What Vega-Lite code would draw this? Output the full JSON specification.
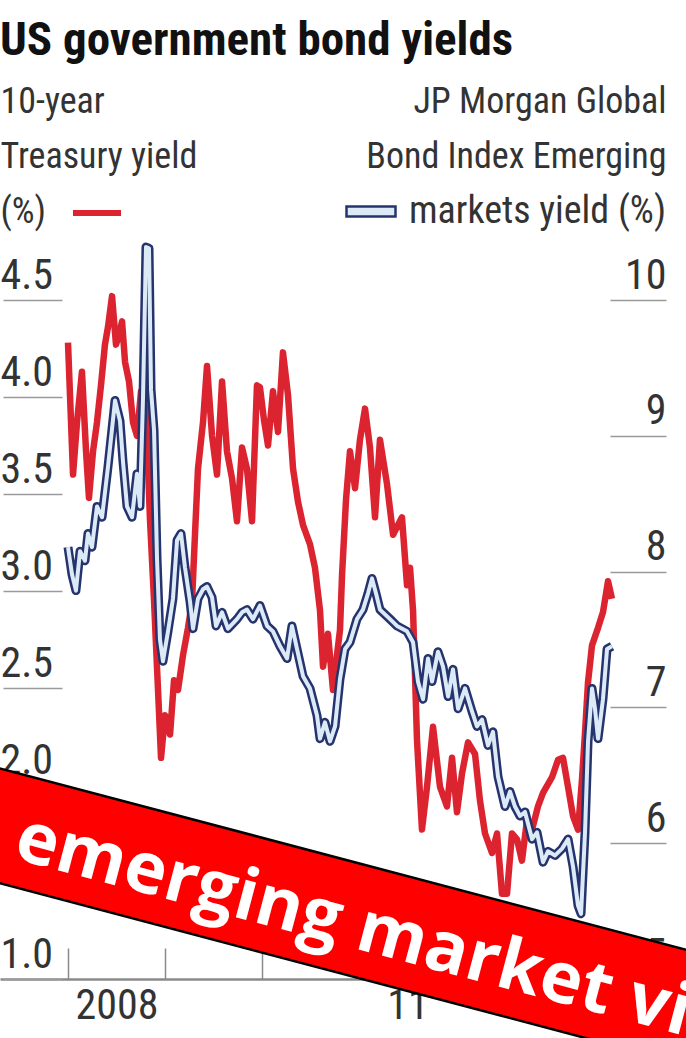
{
  "$schema": "https://vega.github.io/schema/vega-lite/v6.json",
  "width": 686,
  "height": 679,
  "autosize": "none",
  "padding": {"left": 0, "top": 300, "right": 0, "bottom": 59},
  "background": "white",
  "config": {"view": {"stroke": null}},
  "title": {
    "text": "US government bond yields",
    "anchor": "start",
    "frame": "group",
    "font": "Liberation Sans Narrow, Roboto Condensed, DejaVu Sans Condensed, sans-serif",
    "fontSize": 47,
    "fontWeight": "bold",
    "color": "#111111",
    "offset": 18
  },
  "datasets": {
    "red": [
      {"t": 2008.000, "v": 4.28}, {"t": 2008.052, "v": 3.60}, {"t": 2008.093, "v": 3.87}, {"t": 2008.144, "v": 4.13},
      {"t": 2008.186, "v": 3.72}, {"t": 2008.216, "v": 3.48}, {"t": 2008.258, "v": 3.72}, {"t": 2008.299, "v": 3.87},
      {"t": 2008.340, "v": 4.06}, {"t": 2008.381, "v": 4.27}, {"t": 2008.412, "v": 4.36}, {"t": 2008.454, "v": 4.52},
      {"t": 2008.495, "v": 4.27}, {"t": 2008.526, "v": 4.32}, {"t": 2008.557, "v": 4.39}, {"t": 2008.588, "v": 4.18},
      {"t": 2008.629, "v": 4.08}, {"t": 2008.670, "v": 3.87}, {"t": 2008.711, "v": 3.80}, {"t": 2008.753, "v": 4.03},
      {"t": 2008.804, "v": 3.93}, {"t": 2008.845, "v": 3.37}, {"t": 2008.887, "v": 2.95}, {"t": 2008.928, "v": 2.49},
      {"t": 2008.959, "v": 2.14}, {"t": 2009.000, "v": 2.36}, {"t": 2009.052, "v": 2.26}, {"t": 2009.093, "v": 2.54},
      {"t": 2009.134, "v": 2.49}, {"t": 2009.186, "v": 2.67}, {"t": 2009.237, "v": 2.81}, {"t": 2009.278, "v": 2.94},
      {"t": 2009.309, "v": 3.29}, {"t": 2009.340, "v": 3.63}, {"t": 2009.392, "v": 3.87}, {"t": 2009.433, "v": 4.16},
      {"t": 2009.485, "v": 3.80}, {"t": 2009.536, "v": 3.60}, {"t": 2009.588, "v": 4.08}, {"t": 2009.639, "v": 3.72},
      {"t": 2009.691, "v": 3.58}, {"t": 2009.742, "v": 3.36}, {"t": 2009.794, "v": 3.74}, {"t": 2009.845, "v": 3.63},
      {"t": 2009.897, "v": 3.36}, {"t": 2009.948, "v": 4.06}, {"t": 2009.979, "v": 4.05}, {"t": 2010.021, "v": 3.88},
      {"t": 2010.062, "v": 3.75}, {"t": 2010.113, "v": 4.03}, {"t": 2010.165, "v": 3.82}, {"t": 2010.216, "v": 4.23},
      {"t": 2010.268, "v": 4.01}, {"t": 2010.320, "v": 3.63}, {"t": 2010.371, "v": 3.46}, {"t": 2010.423, "v": 3.34},
      {"t": 2010.495, "v": 3.24}, {"t": 2010.546, "v": 3.12}, {"t": 2010.598, "v": 2.90}, {"t": 2010.629, "v": 2.61},
      {"t": 2010.680, "v": 2.78}, {"t": 2010.732, "v": 2.49}, {"t": 2010.773, "v": 2.67}, {"t": 2010.804, "v": 2.80},
      {"t": 2010.825, "v": 3.08}, {"t": 2010.866, "v": 3.47}, {"t": 2010.907, "v": 3.72}, {"t": 2010.959, "v": 3.53},
      {"t": 2011.010, "v": 3.78}, {"t": 2011.062, "v": 3.94}, {"t": 2011.113, "v": 3.74}, {"t": 2011.165, "v": 3.38},
      {"t": 2011.216, "v": 3.78}, {"t": 2011.289, "v": 3.55}, {"t": 2011.351, "v": 3.29}, {"t": 2011.443, "v": 3.38},
      {"t": 2011.495, "v": 3.03}, {"t": 2011.526, "v": 3.12}, {"t": 2011.557, "v": 2.90}, {"t": 2011.598, "v": 2.23},
      {"t": 2011.649, "v": 1.77}, {"t": 2011.701, "v": 1.99}, {"t": 2011.763, "v": 2.30}, {"t": 2011.835, "v": 1.99},
      {"t": 2011.907, "v": 1.89}, {"t": 2011.959, "v": 2.14}, {"t": 2012.010, "v": 1.86}, {"t": 2012.062, "v": 2.06},
      {"t": 2012.124, "v": 2.22}, {"t": 2012.196, "v": 2.16}, {"t": 2012.247, "v": 1.92}, {"t": 2012.299, "v": 1.75},
      {"t": 2012.371, "v": 1.65}, {"t": 2012.423, "v": 1.75}, {"t": 2012.474, "v": 1.44}, {"t": 2012.526, "v": 1.44},
      {"t": 2012.577, "v": 1.75}, {"t": 2012.629, "v": 1.72}, {"t": 2012.680, "v": 1.61}, {"t": 2012.732, "v": 1.82},
      {"t": 2012.784, "v": 1.77}, {"t": 2012.845, "v": 1.89}, {"t": 2012.897, "v": 1.96}, {"t": 2012.990, "v": 2.04},
      {"t": 2013.052, "v": 2.13}, {"t": 2013.103, "v": 2.14}, {"t": 2013.155, "v": 1.99}, {"t": 2013.206, "v": 1.84},
      {"t": 2013.258, "v": 1.77}, {"t": 2013.299, "v": 2.03}, {"t": 2013.330, "v": 2.27}, {"t": 2013.361, "v": 2.53},
      {"t": 2013.402, "v": 2.72}, {"t": 2013.464, "v": 2.81}, {"t": 2013.515, "v": 2.89}, {"t": 2013.567, "v": 3.05},
      {"t": 2013.608, "v": 2.96}
    ],
    "blue": [
      {"t": 2008.000, "v": 8.18}, {"t": 2008.041, "v": 7.98}, {"t": 2008.082, "v": 7.86}, {"t": 2008.124, "v": 8.15},
      {"t": 2008.175, "v": 8.08}, {"t": 2008.206, "v": 8.28}, {"t": 2008.247, "v": 8.18}, {"t": 2008.299, "v": 8.48},
      {"t": 2008.351, "v": 8.40}, {"t": 2008.412, "v": 8.77}, {"t": 2008.485, "v": 9.26}, {"t": 2008.536, "v": 9.11},
      {"t": 2008.567, "v": 8.81}, {"t": 2008.608, "v": 8.48}, {"t": 2008.660, "v": 8.40}, {"t": 2008.711, "v": 8.72},
      {"t": 2008.742, "v": 8.48}, {"t": 2008.773, "v": 9.27}, {"t": 2008.804, "v": 10.39}, {"t": 2008.835, "v": 10.38},
      {"t": 2008.856, "v": 9.34}, {"t": 2008.887, "v": 9.04}, {"t": 2008.918, "v": 8.09}, {"t": 2008.948, "v": 7.50},
      {"t": 2008.979, "v": 7.34}, {"t": 2009.031, "v": 7.56}, {"t": 2009.082, "v": 7.80}, {"t": 2009.124, "v": 8.23},
      {"t": 2009.165, "v": 8.28}, {"t": 2009.206, "v": 8.03}, {"t": 2009.258, "v": 7.78}, {"t": 2009.289, "v": 7.58},
      {"t": 2009.340, "v": 7.80}, {"t": 2009.392, "v": 7.87}, {"t": 2009.433, "v": 7.89}, {"t": 2009.485, "v": 7.81},
      {"t": 2009.526, "v": 7.60}, {"t": 2009.588, "v": 7.70}, {"t": 2009.649, "v": 7.58}, {"t": 2009.742, "v": 7.65},
      {"t": 2009.794, "v": 7.70}, {"t": 2009.845, "v": 7.72}, {"t": 2009.907, "v": 7.65}, {"t": 2009.979, "v": 7.75},
      {"t": 2010.052, "v": 7.60}, {"t": 2010.113, "v": 7.56}, {"t": 2010.186, "v": 7.45}, {"t": 2010.258, "v": 7.36},
      {"t": 2010.309, "v": 7.60}, {"t": 2010.361, "v": 7.43}, {"t": 2010.423, "v": 7.23}, {"t": 2010.495, "v": 7.14},
      {"t": 2010.567, "v": 6.94}, {"t": 2010.598, "v": 6.77}, {"t": 2010.649, "v": 6.89}, {"t": 2010.701, "v": 6.75},
      {"t": 2010.753, "v": 6.86}, {"t": 2010.804, "v": 7.21}, {"t": 2010.856, "v": 7.43}, {"t": 2010.907, "v": 7.48},
      {"t": 2010.979, "v": 7.65}, {"t": 2011.041, "v": 7.72}, {"t": 2011.093, "v": 7.84}, {"t": 2011.134, "v": 7.95},
      {"t": 2011.175, "v": 7.84}, {"t": 2011.216, "v": 7.72}, {"t": 2011.320, "v": 7.65}, {"t": 2011.392, "v": 7.60},
      {"t": 2011.495, "v": 7.56}, {"t": 2011.557, "v": 7.48}, {"t": 2011.608, "v": 7.19}, {"t": 2011.660, "v": 7.06},
      {"t": 2011.711, "v": 7.36}, {"t": 2011.753, "v": 7.19}, {"t": 2011.814, "v": 7.41}, {"t": 2011.866, "v": 7.30},
      {"t": 2011.918, "v": 7.08}, {"t": 2011.969, "v": 7.28}, {"t": 2012.021, "v": 6.99}, {"t": 2012.093, "v": 7.14},
      {"t": 2012.165, "v": 6.97}, {"t": 2012.216, "v": 6.86}, {"t": 2012.268, "v": 6.91}, {"t": 2012.330, "v": 6.72},
      {"t": 2012.381, "v": 6.82}, {"t": 2012.433, "v": 6.49}, {"t": 2012.505, "v": 6.27}, {"t": 2012.557, "v": 6.38},
      {"t": 2012.608, "v": 6.27}, {"t": 2012.660, "v": 6.20}, {"t": 2012.711, "v": 6.23}, {"t": 2012.784, "v": 6.03},
      {"t": 2012.835, "v": 6.08}, {"t": 2012.897, "v": 5.86}, {"t": 2012.948, "v": 5.94}, {"t": 2013.021, "v": 5.91},
      {"t": 2013.093, "v": 5.96}, {"t": 2013.155, "v": 6.03}, {"t": 2013.206, "v": 5.83}, {"t": 2013.258, "v": 5.54},
      {"t": 2013.289, "v": 5.48}, {"t": 2013.330, "v": 6.08}, {"t": 2013.361, "v": 6.75}, {"t": 2013.402, "v": 7.14},
      {"t": 2013.433, "v": 6.99}, {"t": 2013.464, "v": 6.77}, {"t": 2013.515, "v": 7.06}, {"t": 2013.557, "v": 7.43},
      {"t": 2013.608, "v": 7.45}
    ],
    "banner": [{"t": 2010.835, "v": 1.322}],
    "bannerText": [{"t": 2007.423, "v": 1.624, "label": "emerging market vi"}]
  },
  "layer": [
    {
      "data": {"name": "red"},
      "mark": {"type": "line", "strokeWidth": 6.5, "strokeJoin": "round"},
      "encoding": {
        "x": {
          "field": "t", "type": "quantitative",
          "scale": {"domain": [2007.299, 2014.371], "nice": false, "zero": false},
          "axis": {
            "orient": "bottom", "values": [2008, 2009, 2010, 2011, 2012, 2013, 2014],
            "labels": false, "tickSize": -31, "tickColor": "#8a8a8a", "tickWidth": 1.5,
            "domain": true, "domainColor": "#8a8a8a", "domainWidth": 2.5, "grid": false, "title": null
          }
        },
        "y": {
          "field": "v", "type": "quantitative",
          "scale": {"domain": [1, 4.5], "nice": false, "zero": false},
          "axis": {
            "orient": "left", "values": [1, 1.5, 2, 2.5, 3, 3.5, 4, 4.5], "format": ".1f",
            "offset": -62, "tickSize": 59, "tickColor": "#9a9a9a", "tickWidth": 1.5,
            "domain": false, "grid": false,
            "labelAlign": "left", "labelBaseline": "alphabetic", "labelPadding": 3, "labelOffset": -12,
            "labelFlush": false, "labelOverlap": false, "labelBound": false,
            "labelFont": "Liberation Sans Narrow, Roboto Condensed, DejaVu Sans Condensed, sans-serif",
            "labelFontSize": 42, "labelColor": "#333333",
            "title": ["10-year", "Treasury yield", "(%)"],
            "titleAngle": 0, "titleAlign": "left", "titleBaseline": "alphabetic",
            "titleX": -62, "titleY": -188, "titleLineHeight": 55,
            "titleFont": "Liberation Sans Narrow, Roboto Condensed, DejaVu Sans Condensed, sans-serif",
            "titleFontSize": 36, "titleFontWeight": "normal", "titleColor": "#333333"
          }
        },
        "stroke": {
          "datum": "Treasury",
          "scale": {"range": ["#dc2430"]},
          "legend": {
            "orient": "none", "legendX": 70, "legendY": -114, "title": null, "padding": 0,
            "labelExpr": "''", "symbolType": "stroke", "symbolSize": 2304, "symbolStrokeWidth": 6,
            "labelFontSize": 1
          }
        }
      }
    },
    {
      "data": {"name": "blue"},
      "mark": {"type": "line", "strokeWidth": 9, "strokeJoin": "round"},
      "encoding": {
        "x": {
          "field": "t", "type": "quantitative",
          "axis": {
            "orient": "bottom", "values": [2008.5, 2011.5],
            "labelExpr": "datum.value < 2010 ? '2008' : '11'",
            "ticks": false, "domain": false, "grid": false, "title": null,
            "labelPadding": 6, "labelBaseline": "top", "labelFlush": false, "labelOverlap": false,
            "labelFont": "Liberation Sans Narrow, Roboto Condensed, DejaVu Sans Condensed, sans-serif",
            "labelFontSize": 42, "labelColor": "#333333"
          }
        },
        "y": {
          "field": "v", "type": "quantitative",
          "scale": {"domain": [5, 10], "nice": false, "zero": false},
          "axis": {
            "orient": "right", "values": [5, 6, 7, 8, 9, 10], "format": "d",
            "offset": -76, "tickSize": 56, "tickColor": "#9a9a9a", "tickWidth": 1.5,
            "domain": false, "grid": false,
            "labelAlign": "right", "labelBaseline": "alphabetic", "labelPadding": 0, "labelOffset": -12,
            "labelFlush": false, "labelOverlap": false, "labelBound": false,
            "labelFont": "Liberation Sans Narrow, Roboto Condensed, DejaVu Sans Condensed, sans-serif",
            "labelFontSize": 42, "labelColor": "#333333",
            "title": ["JP Morgan Global", "Bond Index Emerging"],
            "titleAngle": 0, "titleAlign": "right", "titleBaseline": "alphabetic",
            "titleX": 56, "titleY": -188, "titleLineHeight": 55,
            "titleFont": "Liberation Sans Narrow, Roboto Condensed, DejaVu Sans Condensed, sans-serif",
            "titleFontSize": 36, "titleFontWeight": "normal", "titleColor": "#333333"
          }
        },
        "stroke": {
          "datum": "markets yield (%)",
          "scale": {"range": ["#26346e"]},
          "legend": {
            "orient": "none", "legendX": 345, "legendY": -114.5, "title": null, "padding": 0,
            "symbolType": "M-1,-0.2L1,-0.2L1,0.2L-1,0.2Z", "symbolSize": 2401, "symbolStrokeWidth": 2.5,
            "symbolFillColor": "#dce9f6", "labelOffset": 12, "labelLimit": 0,
            "labelFont": "Liberation Sans Narrow, Roboto Condensed, DejaVu Sans Condensed, sans-serif",
            "labelFontSize": 38, "labelColor": "#333333",
            "encode": {"symbols": {"update": {"fill": {"value": "#dce9f6"}, "strokeWidth": {"value": 2.5}}}}
          }
        }
      }
    },
    {
      "data": {"name": "blue"},
      "mark": {"type": "line", "strokeWidth": 4, "strokeJoin": "round", "color": "#dce9f6"},
      "encoding": {
        "x": {"field": "t", "type": "quantitative", "axis": null},
        "y": {"field": "v", "type": "quantitative", "scale": {"domain": [5, 10], "nice": false, "zero": false}, "axis": null}
      }
    },
    {
      "data": {"name": "banner"},
      "mark": {
        "type": "point", "shape": "M-1,-0.111L1,-0.111L1,0.111L-1,0.111Z", "size": 1000000,
        "angle": 14.8, "filled": true, "fill": "#ff0000", "stroke": "#000000", "strokeWidth": 2.5, "opacity": 1
      },
      "encoding": {
        "x": {"field": "t", "type": "quantitative", "axis": null},
        "y": {"field": "v", "type": "quantitative", "scale": {"domain": [1, 4.5], "nice": false, "zero": false}, "axis": null}
      }
    },
    {
      "data": {"name": "bannerText"},
      "mark": {
        "type": "text", "angle": 14.8, "align": "left", "baseline": "alphabetic",
        "font": "Open Sans", "fontWeight": "bold", "fontSize": 71, "color": "#ffffff"
      },
      "encoding": {
        "x": {"field": "t", "type": "quantitative", "axis": null},
        "y": {"field": "v", "type": "quantitative", "scale": {"domain": [1, 4.5], "nice": false, "zero": false}, "axis": null},
        "text": {"field": "label"}
      }
    }
  ],
  "resolve": {
    "scale": {"y": "independent", "stroke": "independent"},
    "axis": {"x": "independent", "y": "independent"}
  }
}
